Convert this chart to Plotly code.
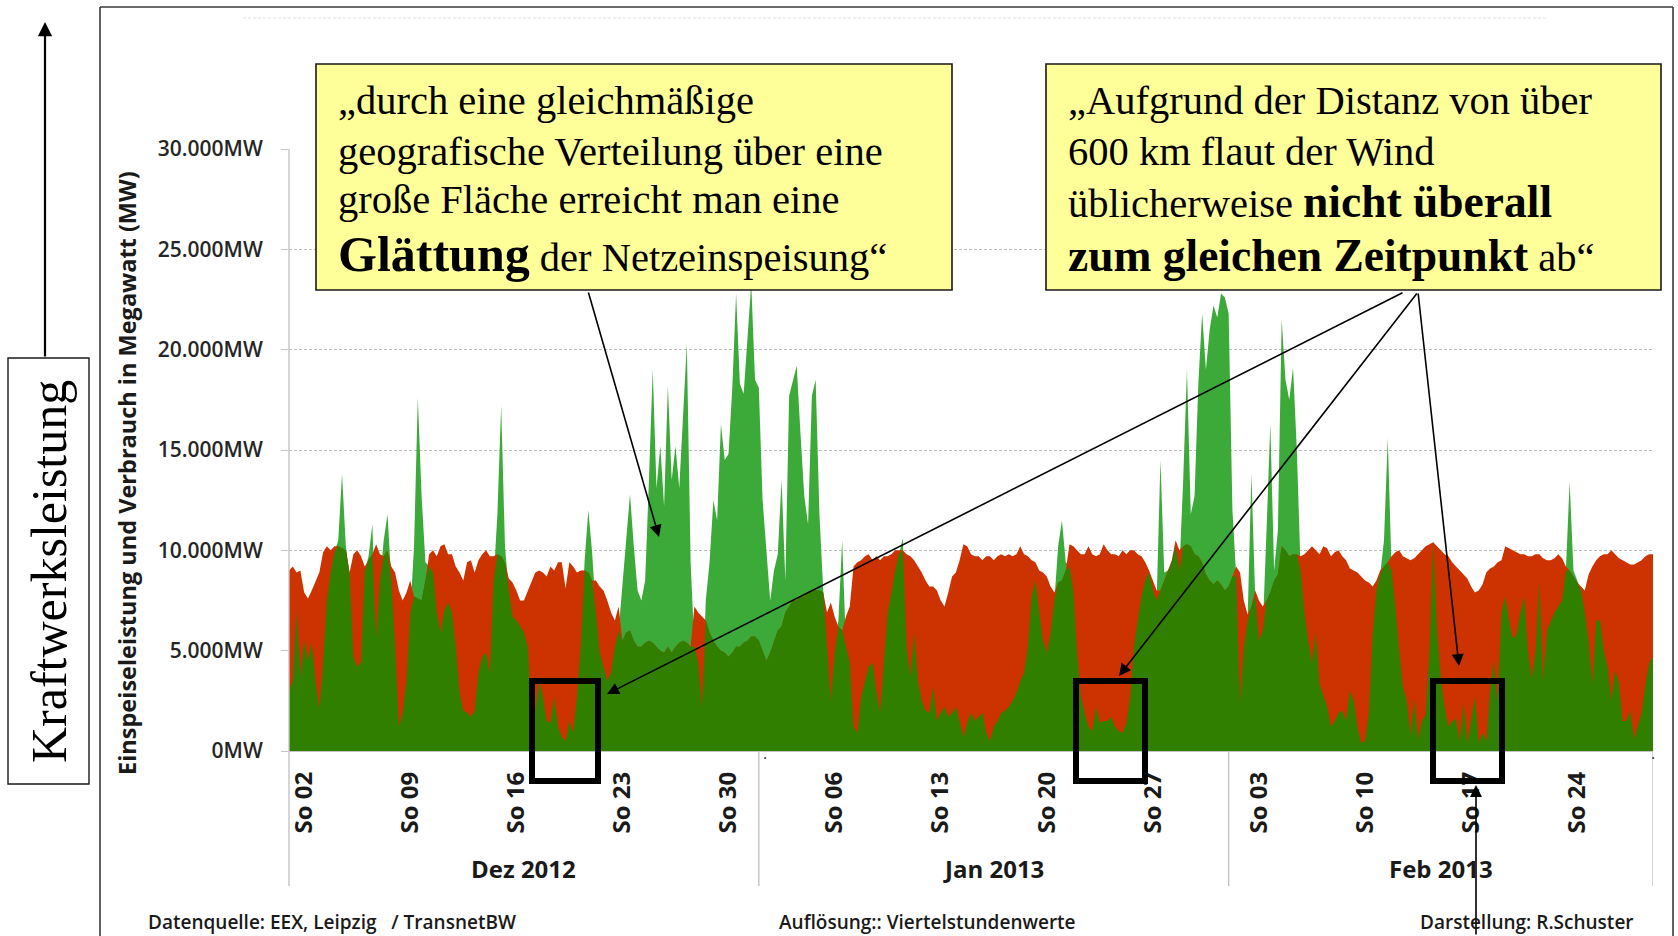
import plotly.graph_objects as go
import pandas as pd

# ---------------- data, 6-hourly from 01.12.2012 00:00, unit: 1000 MW
wind = [
    3.0, 3.5, 7.0, 3.7,   5.5, 4.5, 5.4, 3.5,   2.1, 4.4, 7.5, 8.9,   9.9, 10.5, 13.8, 10.2,
    8.8, 4.7, 4.2, 4.4,   9.0, 9.7, 11.3, 5.6,  8.5, 10.5, 11.8, 8.5,  5.2, 1.2, 1.9, 3.5,
    6.9, 10.2, 17.6, 12.7, 9.4, 9.2, 8.9, 6.9,  5.9, 7.0, 7.4, 6.9,   5.2, 2.9, 2.0, 1.9,
    1.7, 2.0, 3.9, 4.7,   4.9, 3.9, 8.5, 11.8,  17.2, 10.2, 8.0, 6.7,  6.5, 6.2, 5.9, 5.2,
    2.0, 1.9, 3.5, 2.7,   1.5, 1.4, 2.7, 1.2,   0.7, 0.5, 1.5, 0.9,   2.7, 5.2, 9.4, 12.0,
    9.9, 6.9, 4.9, 4.2,   3.5, 3.9, 5.2, 6.0,   8.2, 10.3, 12.8, 10.2, 8.0, 7.5, 8.5, 13.5,
    19.0, 13.1, 15.2, 12.2, 18.2, 13.5, 15.2, 13.1, 16.8, 20.3, 9.4, 5.2, 4.4, 2.2, 7.5, 9.4,
    12.5, 11.5, 16.3, 14.5, 14.8, 18.1, 22.8, 18.3, 17.8, 20.8, 23.3, 18.5,
    18.1, 12.5, 10.2, 7.5, 9.0, 9.8, 13.5, 8.5,  17.7, 18.5, 19.2, 15.8, 12.7, 11.3, 17.7, 18.5,
    11.8, 8.0, 5.2, 2.5,  4.9, 6.5, 10.5, 5.2,  4.4, 1.2, 0.9, 2.7,   3.5, 4.2, 4.4, 3.0,
    1.9, 4.4, 6.9, 7.9,   9.0, 9.8, 10.6, 5.2,  3.7, 5.9, 3.5, 2.5,   2.0, 1.9, 3.2, 1.5,
    1.9, 2.2, 1.7, 1.9,   2.2, 1.5, 0.7, 1.4,   1.9, 1.5, 1.7, 1.9,   0.9, 0.5, 1.2, 1.5,
    1.9, 2.0, 2.2, 2.5,   2.9, 3.5, 3.9, 5.2,   7.7, 8.5, 6.9, 5.5,   4.9, 5.9, 7.5, 10.2,
    11.5, 9.4, 9.2, 8.0,  4.9, 2.7, 1.9, 1.2,   1.0, 2.2, 1.4, 1.5,   1.5, 1.7, 1.2, 1.0,
    0.9, 1.4, 2.7, 5.2,   6.5, 7.7, 8.5, 8.9,   8.0, 7.5, 14.5, 8.9,  9.0, 9.4, 10.2, 9.0,
    13.5, 19.0, 11.8, 12.7, 18.3, 21.8, 19.0, 21.0, 22.2, 21.6, 22.8, 22.6,
    21.8, 12.0, 8.7, 2.4, 5.2, 6.5, 13.8, 7.7,  5.5, 6.0, 11.0, 16.3,  9.0, 11.0, 21.5, 18.5,
    17.5, 19.1, 15.0, 9.0, 6.9, 5.5, 4.4, 5.9,  3.3, 2.8, 2.2, 1.2,   1.5, 1.9, 2.0, 1.5,
    3.0, 2.5, 1.2, 0.4,   0.5, 1.9, 5.8, 8.0,   8.8, 10.5, 15.6, 9.0,  7.2, 5.0, 3.2, 2.5,
    0.8, 2.6, 0.6, 1.5,   1.8, 5.0, 10.5, 6.0,  3.6, 2.2, 1.2, 1.5,   1.6, 0.5, 2.4, 0.4,
    1.5, 2.7, 0.4, 0.9,   0.5, 3.0, 4.5, 2.5,   6.9, 7.7, 6.5, 5.6,   5.8, 6.9, 7.7, 5.0,
    3.6, 5.0, 8.4, 3.5,   6.0, 6.5, 6.9, 7.2,   7.5, 9.0, 13.4, 9.0,  8.5, 8.0, 6.9, 5.5,
    3.3, 6.5, 6.5, 5.0,   4.2, 2.5, 4.0, 3.4,   1.5, 1.5, 2.0, 0.6,   1.2, 1.9, 3.3, 4.4,
    4.7,
]
load = [
    9.0, 9.2, 8.9, 9.0,   7.9, 7.6, 8.0, 8.5,   8.9, 9.9, 10.2, 10.0,  10.2, 10.2, 10.1, 10.0,
    8.9, 9.8, 10.0, 9.7,  9.2, 9.5, 9.8, 10.3,  9.8, 9.7, 10.0, 9.2,   8.9, 8.0, 7.5, 7.9,
    8.5, 7.7, 7.6, 7.5,   8.5, 9.8, 10.0, 9.7,  10.2, 10.3, 9.8, 9.8,  9.2, 8.9, 8.5, 9.4,
    9.5, 8.9, 9.5, 9.8,   10.0, 9.7, 9.7, 9.8,  9.7, 9.4, 8.6, 8.4,   8.0, 7.5, 7.5, 8.0,
    8.5, 8.9, 9.0, 8.9,   8.7, 9.2, 9.0, 9.4,   9.4, 8.1, 9.4, 9.2,   8.9, 9.0, 9.0, 8.9,
    8.5, 8.5, 8.2, 8.0,   7.5, 6.9, 6.5, 7.2,   5.5, 5.9, 6.0, 5.5,   5.2, 5.2, 5.4, 5.5,
    5.4, 5.2, 5.0, 4.9,   5.2, 4.9, 5.2, 5.4,   5.5, 5.4, 5.2, 7.2,   6.9, 6.7, 6.5, 5.9,
    5.5, 5.2, 5.0, 4.9,   4.7, 4.9, 5.2, 5.2,   5.4, 5.5, 5.7, 5.7,
    5.5, 5.0, 4.5, 4.9,   5.5, 6.0, 6.2, 6.9,   7.2, 7.5, 7.5, 7.7,   7.7, 7.9, 8.0, 8.0,
    8.0, 7.9, 6.9, 7.4,   6.7, 6.2, 6.0, 6.7,   7.2, 9.2, 9.4, 9.5,   9.7, 9.8, 9.5, 9.7,
    9.5, 9.7, 9.7, 9.8,   10.0, 10.0, 10.0, 9.8, 9.7, 9.5, 9.2, 8.9,  8.5, 8.2, 8.2, 8.0,
    7.5, 7.2, 7.9, 8.7,   8.9, 9.5, 10.3, 10.2, 9.8, 9.7, 9.7, 9.5,   9.7, 9.7, 9.5, 9.7,
    9.8, 9.7, 9.8, 9.7,   9.8, 10.2, 9.8, 9.7,  9.5, 9.4, 9.0, 8.9,   8.7, 8.2, 7.9, 8.4,
    8.5, 9.0, 10.3, 10.2, 10.0, 9.8, 9.8, 10.2, 9.8, 9.7, 9.8, 10.3,  10.0, 9.8, 9.8, 9.7,
    10.0, 9.8, 10.0, 10.0, 9.8, 9.7, 9.4, 9.0,  8.5, 8.0, 8.0, 8.5,   9.0, 9.5, 10.5, 10.0,
    10.2, 10.3, 10.2, 9.8, 9.7, 9.4, 8.8, 8.5,  8.3, 8.5, 8.3, 8.0,
    8.2, 8.7, 9.2, 8.9,   7.5, 6.8, 7.2, 8.0,   7.5, 7.2, 7.5, 7.9,   8.5, 8.8, 10.2, 10.0,
    9.7, 9.8, 9.8, 9.7,   9.8, 10.0, 10.2, 10.0, 9.8, 10.2, 10.1, 9.7, 9.9, 10.0, 9.7, 9.5,
    9.1, 9.0, 8.9, 8.7,   8.5, 8.4, 8.2, 8.5,   9.0, 9.2, 9.4, 9.7,   9.9, 10.0, 9.7, 9.6,
    9.5, 9.6, 9.8, 10.0,  10.2, 10.3, 10.4, 10.2, 10.0, 9.8, 9.7, 9.4, 9.2, 9.0, 8.8, 8.6,
    8.2, 7.9, 8.0, 8.3,   8.9, 9.1, 9.2, 9.4,   9.5, 10.2, 10.1, 10.0, 9.9, 9.8, 9.8, 9.7,
    9.7, 9.8, 9.8, 9.6,   9.5, 9.5, 9.6, 9.8,   9.6, 9.2, 9.0, 8.7,   8.4, 8.2, 8.0, 8.8,
    9.2, 9.5, 9.7, 9.8,   9.8, 10.0, 9.8, 9.6,  9.5, 9.4, 9.3, 9.3,   9.4, 9.5, 9.7, 9.8,
    9.8,
]

sunday_dates = ["2012-12-02", "2012-12-09", "2012-12-16", "2012-12-23", "2012-12-30",
                "2013-01-06", "2013-01-13", "2013-01-20", "2013-01-27",
                "2013-02-03", "2013-02-10", "2013-02-17", "2013-02-24"]
sunday_labels = ["So 02", "So 09", "So 16", "So 23", "So 30", "So 06", "So 13", "So 20",
                 "So 27", "So 03", "So 10", "So 17", "So 24"]
month_labels = ["Dez 2012", "Jan 2013", "Feb 2013"]
month_centers = ["2012-12-16 12:00", "2013-01-16 12:00", "2013-02-15 00:00"]
month_bounds = ["2012-12-01", "2013-01-01", "2013-02-01", "2013-03-01"]
y_ticks = [0, 5, 10, 15, 20, 25, 30]
y_ticklabels = ["0MW", "5.000MW", "10.000MW", "15.000MW", "20.000MW", "25.000MW", "30.000MW"]

times = pd.date_range("2012-12-01 00:00", periods=len(wind), freq="6h")
covered = [min(w, c) for w, c in zip(wind, load)]

RED = "#CC3300"
DARK = "#307F00"
LIGHT = "#3CAA38"

# ---------------- geometry helpers (pixels -> paper)
W, H = 1678, 936
PL, PR, PT, PB = 289, 1653, 149, 751
PW, PH = PR - PL, PB - PT


def px(x):
    return (x - PL) / PW


def py(y):
    return (PB - y) / PH


fig = go.Figure()
fig.add_trace(go.Scatter(x=times, y=wind, mode="lines", fill="tozeroy",
                         line=dict(width=0, color=LIGHT), fillcolor=LIGHT, hoverinfo="skip"))
fig.add_trace(go.Scatter(x=times, y=load, mode="lines", fill="tozeroy",
                         line=dict(width=0, color=RED), fillcolor=RED, hoverinfo="skip"))
fig.add_trace(go.Scatter(x=times, y=covered, mode="lines", fill="tozeroy",
                         line=dict(width=0, color=DARK), fillcolor=DARK, hoverinfo="skip"))

SANS = "Open Sans"
SERIF = "Liberation Serif"

shapes = []
ann = []

# outer frame
FR = dict(color="#3a3a3a", width=1.6)
shapes += [
    dict(type="line", xref="paper", yref="paper", x0=px(100), x1=px(100), y0=py(7), y1=py(940), line=FR),
    dict(type="line", xref="paper", yref="paper", x0=px(100), x1=px(1673), y0=py(7), y1=py(7), line=FR),
    dict(type="line", xref="paper", yref="paper", x0=px(1673), x1=px(1673), y0=py(7), y1=py(940), line=FR),
    dict(type="line", xref="paper", yref="paper", x0=px(243), x1=px(1548), y0=py(18), y1=py(18),
         line=dict(color="#e4e4e4", width=1.2, dash="3px,2px")),
]

# y axis line extended below, month separators
AX = dict(color="#c4c4c4", width=1.4)
shapes.append(dict(type="line", xref="paper", yref="paper", x0=0, x1=0, y0=1, y1=py(886), line=AX))
for b in month_bounds[1:]:
    shapes.append(dict(type="line", xref="x", yref="paper", x0=b, x1=b, y0=0, y1=py(886), line=AX))

# callout boxes
BOX = dict(color="#1a1a1a", width=1.6)
shapes.append(dict(type="rect", xref="paper", yref="paper", x0=px(316), x1=px(952), y0=py(64), y1=py(290),
                   fillcolor="#FFFF99", line=BOX, layer="above"))
shapes.append(dict(type="rect", xref="paper", yref="paper", x0=px(1046), x1=px(1661), y0=py(64), y1=py(290),
                   fillcolor="#FFFF99", line=BOX, layer="above"))

# left label box
shapes.append(dict(type="rect", xref="paper", yref="paper", x0=px(8), x1=px(89), y0=py(358), y1=py(784),
                   fillcolor="white", line=dict(color="#1a1a1a", width=1.4)))

# thick black highlight rectangles
for x0, x1 in [(532, 598), (1076, 1145), (1433, 1502)]:
    shapes.append(dict(type="rect", xref="paper", yref="paper", x0=px(x0), x1=px(x1), y0=py(681), y1=py(781),
                       line=dict(color="black", width=6), fillcolor="rgba(0,0,0,0)", layer="above"))


# callout texts
def line_text(x, y, text, size=40.5):
    ann.append(dict(xref="paper", yref="paper", x=px(x), y=py(y), text=text, showarrow=False,
                    xanchor="left", yanchor="middle", font=dict(family=SERIF, size=size, color="black")))


line_text(336, 101, "\u201edurch eine gleichmäßige")
line_text(336, 151, "geografische Verteilung über eine")
line_text(336, 199, "große Fläche erreicht man eine")
line_text(336, 254, "<b><span style='font-size:50px'>Glättung</span></b> der Netzeinspeisung\u201c")
line_text(1066, 101, "\u201eAufgrund der Distanz von über")
line_text(1066, 151, "600 km flaut der Wind")
line_text(1066, 202, "üblicherweise <b><span style='font-size:45.5px'>nicht überall</span></b>")
line_text(1066, 255, "<b><span style='font-size:45.5px'>zum gleichen Zeitpunkt</span></b> ab\u201c")


# arrows (tip, tail)
def arrow(tip, tail, width=1.6, size=1.5):
    ann.append(dict(xref="paper", yref="paper", x=px(tip[0]), y=py(tip[1]), text="",
                    showarrow=True, axref="pixel", ayref="pixel",
                    ax=tail[0] - tip[0], ay=tail[1] - tip[1],
                    arrowhead=2, arrowsize=size, arrowwidth=width, arrowcolor="black", standoff=0))


arrow((659, 537), (588, 291))
arrow((607, 694), (1404, 292))
arrow((1119, 676), (1418, 292))
arrow((1459, 666), (1418, 292))
arrow((1476, 785), (1476, 940))
arrow((45, 22), (45, 358), width=2.2, size=1.3)

# left rotated label
ann.append(dict(xref="paper", yref="paper", x=px(49), y=py(572), text="Kraftwerksleistung",
                showarrow=False, textangle=-90, xanchor="center", yanchor="middle",
                font=dict(family=SERIF, size=50, color="black")))
# y axis title
ann.append(dict(xref="paper", yref="paper", x=px(127), y=py(473),
                text="<b>Einspeiseleistung und Verbrauch in Megawatt (MW)</b>",
                showarrow=False, textangle=-90, xanchor="center", yanchor="middle",
                font=dict(family=SANS, size=23.5, color="#1a1a1a")))
# month labels
for lab, c in zip(month_labels, month_centers):
    ann.append(dict(xref="x", yref="paper", x=c, y=py(868), text=f"<b>{lab}</b>", showarrow=False,
                    xanchor="center", yanchor="middle", font=dict(family=SANS, size=24, color="#1a1a1a")))
# stray dots under the axis
for xx in (765, 1657):
    ann.append(dict(xref="paper", yref="paper", x=px(xx), y=py(766), text=".", showarrow=False,
                    font=dict(family=SANS, size=16, color="#333")))
# footer
for xx, t in [(146, "Datenquelle: EEX, Leipzig\u00a0\u00a0\u00a0/ TransnetBW"),
              (777, "Auflösung:: Viertelstundenwerte"),
              (1418, "Darstellung: R.Schuster")]:
    ann.append(dict(xref="paper", yref="paper", x=px(xx), y=py(922), text=t, showarrow=False,
                    xanchor="left", yanchor="middle",
                    font=dict(family=SANS, size=19, color="#1a1a1a", weight=600)))

fig.update_layout(
    width=W, height=H,
    margin=dict(l=PL, r=W - PR, t=PT, b=H - PB, pad=0),
    paper_bgcolor="white", plot_bgcolor="white",
    showlegend=False,
    shapes=shapes, annotations=ann,
    xaxis=dict(range=[month_bounds[0], month_bounds[-1]], tickmode="array",
               tickvals=sunday_dates, ticktext=[f"<b>{t}</b>" for t in sunday_labels],
               tickangle=-90, ticks="", showgrid=False, zeroline=False,
               showline=True, linecolor="#c4c4c4", linewidth=1.4,
               tickfont=dict(family=SANS, size=24, color="#1a1a1a"), ticklabelstandoff=10),
    yaxis=dict(range=[0, 30], tickmode="array", tickvals=y_ticks, ticktext=y_ticklabels,
               showgrid=True, gridcolor="#bdbdbd", gridwidth=1.2, griddash="3px,2px",
               zeroline=False, showline=False, ticks="outside", ticklen=7, tickcolor="#c4c4c4",
               tickfont=dict(family=SANS, size=21, color="#262626", weight=600), ticklabelstandoff=14),
)

fig.write_html("out.html", config={"displayModeBar": False},
               post_script="document.body.style.margin='0px';")
